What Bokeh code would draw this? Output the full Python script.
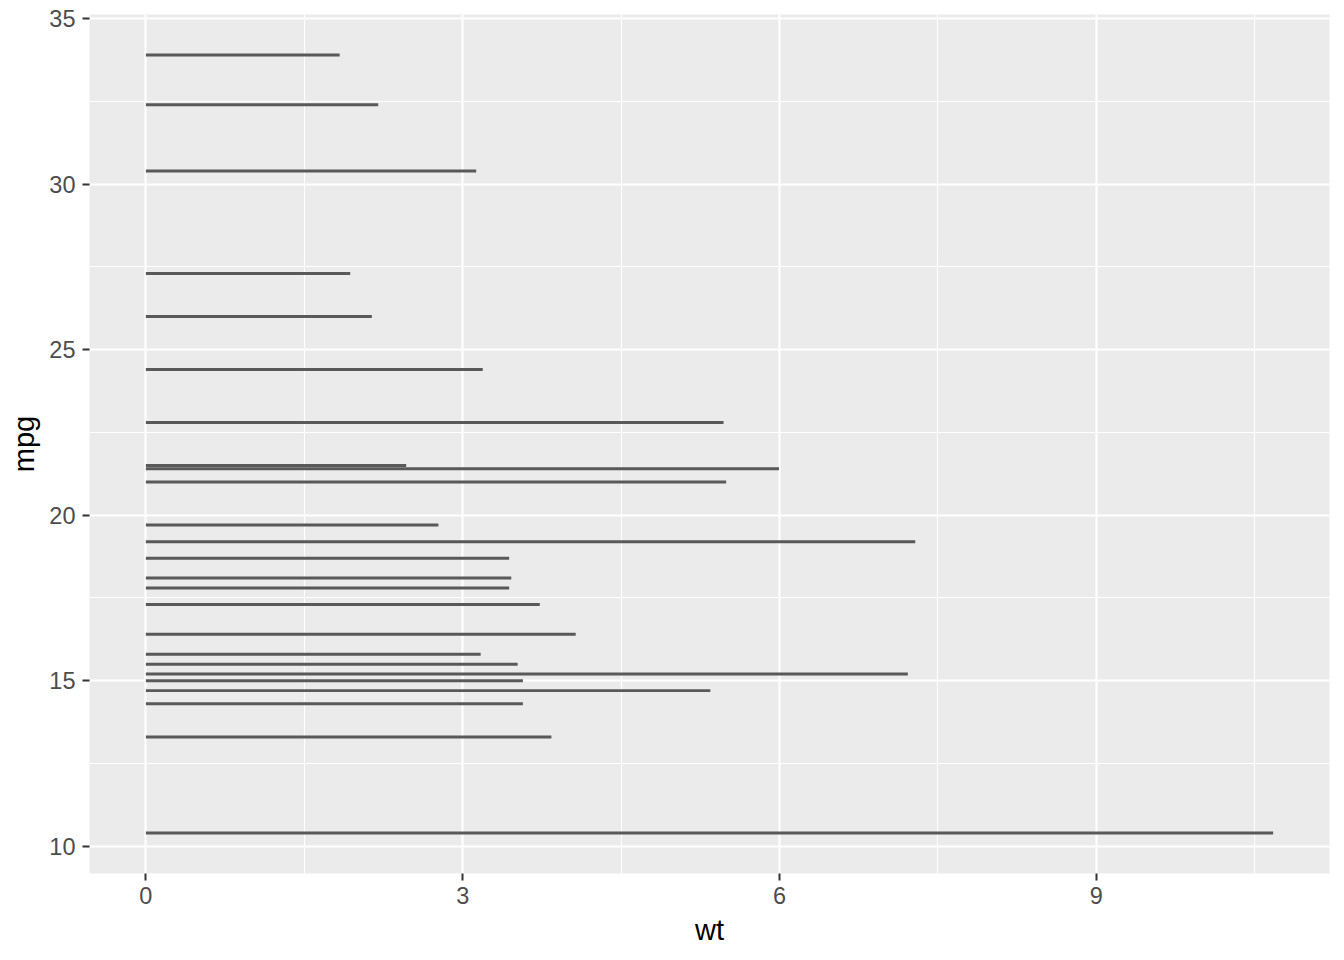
import pandas as pd
from bokeh.plotting import figure
from bokeh.models import Range1d, FixedTicker, ColumnDataSource
from bokeh.embed import file_html
from bokeh.resources import INLINE

# mtcars: mpg and wt per car
mpg = [21.0, 21.0, 22.8, 21.4, 18.7, 18.1, 14.3, 24.4, 22.8, 19.2, 17.8, 16.4,
       17.3, 15.2, 10.4, 10.4, 14.7, 32.4, 30.4, 33.9, 21.5, 15.5, 15.2, 13.3,
       19.2, 27.3, 26.0, 30.4, 15.8, 19.7, 15.0, 21.4]
wt = [2.620, 2.875, 2.320, 3.215, 3.440, 3.460, 3.570, 3.190, 3.150, 3.440,
      3.440, 4.070, 3.730, 3.780, 5.250, 5.424, 5.345, 2.200, 1.615, 1.835,
      2.465, 3.520, 3.435, 3.840, 3.845, 1.935, 2.140, 1.513, 3.170, 2.770,
      3.570, 2.780]

x_ticks = [0, 3, 6, 9]
x_minor = [1.5, 4.5, 7.5, 10.5]
y_ticks = [10, 15, 20, 25, 30, 35]
y_minor = [12.5, 17.5, 22.5, 27.5, 32.5]

df = pd.DataFrame({"mpg": mpg, "wt": wt})
agg = df.groupby("mpg", as_index=False)["wt"].sum()
src = ColumnDataSource(dict(y=agg["mpg"].tolist(), right=agg["wt"].tolist(),
                            left=[0.0] * len(agg)))

bar_h = 0.09
xmax = agg["wt"].max()
xlo, xhi = -0.05 * xmax, xmax * 1.05
ylo_d, yhi_d = min(mpg) - bar_h / 2, max(mpg) + bar_h / 2
span = yhi_d - ylo_d
ylo, yhi = ylo_d - 0.05 * span, yhi_d + 0.05 * span

p = figure(width=1340, height=955, output_backend="svg", toolbar_location=None,
           x_range=Range1d(xlo, xhi), y_range=Range1d(ylo, yhi),
           min_border_left=89, min_border_top=14, min_border_right=11,
           min_border_bottom=82)
p.frame_width = 1240
p.frame_height = 859

p.hbar(y="y", left="left", right="right", height=bar_h, source=src,
       fill_color="#595959", line_color=None)

p.background_fill_color = "#EBEBEB"
p.border_fill_color = "white"
p.outline_line_color = None

p.xaxis.ticker = FixedTicker(ticks=x_ticks, minor_ticks=x_minor)
p.yaxis.ticker = FixedTicker(ticks=y_ticks, minor_ticks=y_minor)

for g in (p.xgrid, p.ygrid):
    g.grid_line_color = "white"
    g.grid_line_width = 2.1
    g.minor_grid_line_color = "white"
    g.minor_grid_line_width = 1.1

for ax in (p.xaxis, p.yaxis):
    ax.axis_line_color = None
    ax.minor_tick_line_color = None
    ax.major_tick_line_color = "#333333"
    ax.major_tick_line_width = 2
    ax.major_tick_out = 7
    ax.major_tick_in = 0
    ax.major_label_text_font = "Liberation Sans"
    ax.major_label_text_font_size = "23.5px"
    ax.major_label_text_color = "#4D4D4D"
    ax.axis_label_text_font = "Liberation Sans"
    ax.axis_label_text_font_size = "29px"
    ax.axis_label_text_font_style = "normal"
    ax.axis_label_text_color = "black"

p.xaxis.axis_label = "wt"
p.yaxis.axis_label = "mpg"
p.xaxis.major_label_standoff = 6
p.yaxis.major_label_standoff = 7
p.xaxis.axis_label_standoff = 7
p.yaxis.axis_label_standoff = 6

open("out.html", "w").write(file_html(p, INLINE))
